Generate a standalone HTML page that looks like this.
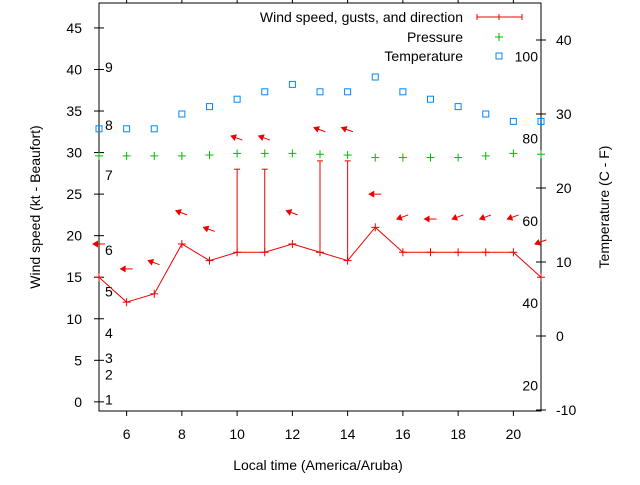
<!DOCTYPE html>
<html><head><meta charset="utf-8"><style>
body{margin:0;background:#fff}
svg text{font-family:"Liberation Sans",sans-serif;font-size:14px;fill:#000}
</style></head><body>
<svg id="c" width="640" height="480" xmlns="http://www.w3.org/2000/svg"></svg>
<script>
const hours=[5,6,7,8,9,10,11,12,13,14,15,16,17,18,19,20,21];
const windSpeed=[15,12,13,19,17,18,18,19,18,17,21,18,18,18,18,18,15];
const gustHours=[10,11,13,14];
const gustBase=[18,18,18,17];
const gustValues=[28,28,29,29];
const arrowLevel=[19,16,17,23,21,32,32,23,33,33,25,22,22,22,22,22,19];
const arrowAngle=[0,0,20,20,20,20,20,20,20,20,0,-20,0,-20,-20,-20,-20];
const pressure=[29.6,29.6,29.6,29.6,29.7,29.9,29.9,29.9,29.8,29.7,29.4,29.4,29.4,29.4,29.6,29.9,29.8];
const tempC=[28,28,28,30,31,32,33,34,33,33,35,33,32,31,30,29,29];
const xTicks=[6,8,10,12,14,16,18,20];
const yTicks=[0,5,10,15,20,25,30,35,40,45];
const cTicks=[-10,0,10,20,30,40];
const beaufort=[[1,1],[2,4],[3,6],[4,9],[5,14],[6,19],[7,28],[8,34],[9,41]];
const fahr=[20,40,60,80,100];

const L=99,R=541,T=3,B=411;
const X=h=>L+(h-5)/(21-5)*(R-L);
const Y=v=>B-(v+1.1)/(48+1.1)*(B-T);
const YC=c=>336-c*7.4;
const svg=document.getElementById('c');
const NS='http://www.w3.org/2000/svg';
function el(tag,attrs,parent){const e=document.createElementNS(NS,tag);for(const k in attrs)e.setAttribute(k,attrs[k]);(parent||svg).appendChild(e);return e;}
function txt(x,y,s,anchor){const t=el('text',{x:x,y:y,'text-anchor':anchor||'start'});t.textContent=s;return t;}

let f=el('rect',{x:L,y:T,width:R-L,height:B-T,fill:'none',stroke:'#000','stroke-width':1});

xTicks.forEach(h=>{el('line',{x1:X(h),x2:X(h),y1:B,y2:B+5,stroke:'#000'});el('line',{x1:X(h),x2:X(h),y1:T,y2:T-5,stroke:'#000'});
 const t=txt(X(h),439,String(h),'middle');});
yTicks.forEach(v=>{el('line',{x1:L-5,x2:L,y1:Y(v),y2:Y(v),stroke:'#000'});el('line',{x1:L,x2:L+5,y1:Y(v),y2:Y(v),stroke:'#000'});
 const t=txt(82,Y(v)+5,String(v),'end');});
cTicks.forEach(c=>{el('line',{x1:R-5,x2:R+5,y1:YC(c),y2:YC(c),stroke:'#000'});
 const t=txt(556,YC(c)+5,String(c),'start');});
beaufort.forEach(b=>{
 const t=txt(105,Y(b[1]-1.3),String(b[0]));});
fahr.forEach(F=>{const c=(F-32)*5/9;
 const t=txt(538,YC(c)+5,String(F),'end');});

let a=txt(318,470,'Local time (America/Aruba)','middle');
a=txt(0,0,'Wind speed (kt - Beaufort)','middle');a.setAttribute('transform','translate(40,207) rotate(-90)');
a=txt(0,0,'Temperature (C - F)','middle');a.setAttribute('transform','translate(609,207) rotate(-90)');

let p=el('polyline',{points:hours.map((h,i)=>X(h)+','+Y(windSpeed[i])).join(' '),fill:'none',stroke:'#e00','stroke-width':1});

hours.forEach((h,i)=>{const g=el('g',{stroke:'#e00'});
 el('line',{x1:X(h)-4,x2:X(h)+4,y1:Y(windSpeed[i]),y2:Y(windSpeed[i])},g);el('line',{x1:X(h),x2:X(h),y1:Y(windSpeed[i])-4,y2:Y(windSpeed[i])+4},g);});
gustHours.forEach((h,i)=>{const g=el('g',{stroke:'#e00'});
 el('line',{x1:X(h),x2:X(h),y1:Y(gustBase[i]),y2:Y(gustValues[i])},g);el('line',{x1:X(h)-3,x2:X(h)+3,y1:Y(gustValues[i]),y2:Y(gustValues[i])},g);});
hours.forEach((h,i)=>{const g=el('g',{transform:`translate(${X(h)-6},${Y(arrowLevel[i])}) rotate(${arrowAngle[i]})`});
 
 el('line',{x1:0,x2:12,y1:0,y2:0,stroke:'#e00'},g);el('polygon',{points:'-1,0 5,-3.5 5,3.5',fill:'#e00'},g);});
hours.forEach((h,i)=>{const g=el('g',{stroke:'#0b0'});
 el('line',{x1:X(h)-4,x2:X(h)+4,y1:Y(pressure[i]),y2:Y(pressure[i])},g);el('line',{x1:X(h),x2:X(h),y1:Y(pressure[i])-4,y2:Y(pressure[i])+4},g);});
hours.forEach((h,i)=>{const r=el('rect',{x:X(h)-3,y:YC(tempC[i])-3,width:6,height:6,fill:'none',stroke:'#08f'});
 });

let lg=el('g',{});
let t=txt(463,22,'Wind speed, gusts, and direction','end');lg.appendChild(t);
el('line',{x1:477,x2:522,y1:17,y2:17,stroke:'#e00'},lg);[477,499,522].forEach(x=>el('line',{x1:x,x2:x,y1:14,y2:20,stroke:'#e00'},lg));
t=txt(463,42,'Pressure','end');lg.appendChild(t);
el('line',{x1:495,x2:503,y1:37,y2:37,stroke:'#0b0'},lg);el('line',{x1:499,x2:499,y1:33,y2:41,stroke:'#0b0'},lg);
t=txt(463,61,'Temperature','end');lg.appendChild(t);
el('rect',{x:496,y:53,width:6,height:6,fill:'none',stroke:'#08f'},lg);
</script>
</body></html>
